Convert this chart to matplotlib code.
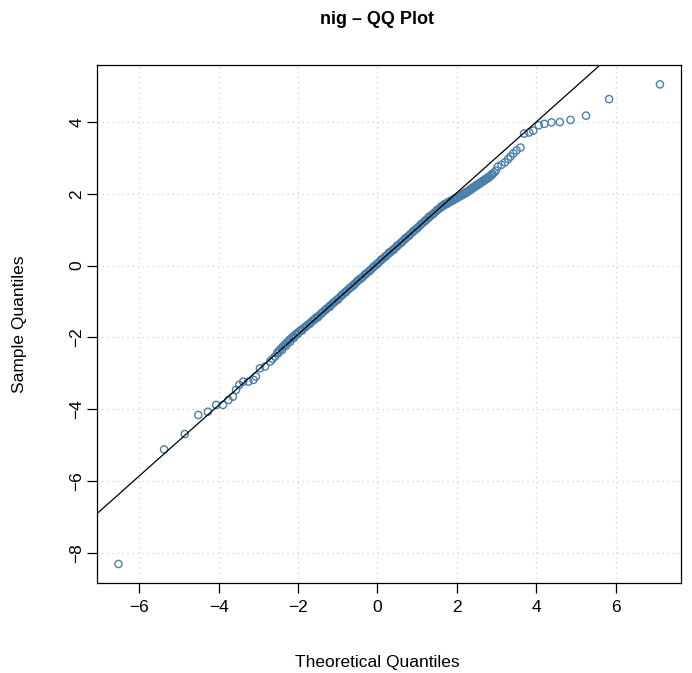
import matplotlib.pyplot as plt
import numpy as np

plt.rcParams['font.family'] = ['Liberation Sans', 'DejaVu Sans']

# lower tail (theoretical, sample)
tail_lo_x = [-6.52, -5.37, -4.85, -4.51, -4.27, -4.06, -3.89, -3.75, -3.64, -3.56,
             -3.48, -3.38, -3.25, -3.12, -3.06, -2.96, -2.83, -2.70, -2.64, -2.58]
tail_lo_y = [-8.31, -5.12, -4.69, -4.16, -4.07, -3.88, -3.88, -3.74, -3.65, -3.46,
             -3.32, -3.23, -3.23, -3.18, -3.09, -2.86, -2.81, -2.67, -2.60, -2.53]

# dense body
body_x = [-2.52, -2.47, -2.42, -2.37, -2.32, -2.27, -2.22, -2.17, -2.12, -2.07,
          -2.02, -1.97, -1.92, -1.87, -1.82, -1.77, -1.72, -1.67, -1.62, -1.57,
          -1.52, -1.47, -1.42, -1.37, -1.32, -1.27, -1.22, -1.17, -1.12, -1.07,
          -1.02, -0.97, -0.92, -0.87, -0.82, -0.77, -0.72, -0.67, -0.62, -0.57,
          -0.52, -0.47, -0.42, -0.37, -0.32, -0.27, -0.22, -0.17, -0.12, -0.07,
          -0.02, 0.03, 0.08, 0.13, 0.18, 0.23, 0.28, 0.33, 0.38, 0.43,
          0.48, 0.53, 0.58, 0.63, 0.68, 0.73, 0.78, 0.83, 0.88, 0.93,
          0.98, 1.03, 1.08, 1.13, 1.18, 1.23, 1.28, 1.33, 1.38, 1.43,
          1.48, 1.53]
body_y = [-2.42, -2.36, -2.30, -2.24, -2.19, -2.13, -2.07, -2.02, -1.97, -1.92,
          -1.88, -1.83, -1.79, -1.75, -1.71, -1.66, -1.62, -1.57, -1.52, -1.47,
          -1.43, -1.39, -1.34, -1.29, -1.24, -1.19, -1.14, -1.09, -1.05, -1.00,
          -0.95, -0.90, -0.85, -0.80, -0.75, -0.70, -0.65, -0.60, -0.55, -0.50,
          -0.45, -0.40, -0.35, -0.31, -0.26, -0.21, -0.16, -0.11, -0.06, -0.01,
          0.04, 0.09, 0.14, 0.19, 0.24, 0.29, 0.34, 0.38, 0.43, 0.48,
          0.53, 0.58, 0.63, 0.68, 0.73, 0.78, 0.83, 0.88, 0.93, 0.98,
          1.03, 1.08, 1.13, 1.18, 1.23, 1.28, 1.33, 1.38, 1.42, 1.47,
          1.52, 1.57]

# in-between body points (slight spread either side of the line)
body2_x = [-2.50, -2.40, -2.30, -2.20, -2.10, -2.00, -1.90, -1.80, -1.70, -1.60,
           -1.50, -1.40, -1.30, -1.20, -1.10, -1.00, -0.90, -0.80, -0.70, -0.60,
           -0.50, -0.40, -0.30, -0.20, -0.10, 0.00, 0.10, 0.20, 0.30, 0.40,
           0.50, 0.60, 0.70, 0.80, 0.90, 1.00, 1.10, 1.20, 1.30, 1.40,
           1.50]
body2_y = [-2.44, -2.35, -2.23, -2.12, -2.01, -1.90, -1.81, -1.70, -1.62, -1.52,
           -1.44, -1.32, -1.22, -1.15, -1.02, -0.95, -0.82, -0.74, -0.63, -0.55,
           -0.42, -0.35, -0.23, -0.15, -0.03, 0.05, 0.17, 0.25, 0.37, 0.44,
           0.56, 0.64, 0.76, 0.84, 0.96, 1.04, 1.16, 1.25, 1.36, 1.44,
           1.55]

# upper shoulder, bending below the line
shoulder_x = [1.58, 1.62, 1.66, 1.70, 1.74, 1.78, 1.82, 1.86, 1.90, 1.94,
              1.98, 2.02, 2.06, 2.10, 2.14, 2.18, 2.22, 2.26, 2.30, 2.34,
              2.38, 2.42, 2.46, 2.50, 2.54, 2.58, 2.62, 2.66, 2.70, 2.74,
              2.78, 2.82, 2.86, 2.90, 2.94, 2.98]
shoulder_y = [1.61, 1.64, 1.67, 1.70, 1.72, 1.75, 1.77, 1.80, 1.82, 1.85,
              1.87, 1.90, 1.92, 1.95, 1.97, 2.00, 2.02, 2.05, 2.08, 2.11,
              2.14, 2.17, 2.20, 2.23, 2.26, 2.29, 2.32, 2.35, 2.38, 2.41,
              2.44, 2.47, 2.51, 2.55, 2.60, 2.65]
shoulder2_x = [1.60, 1.68, 1.76, 1.84, 1.92, 2.00, 2.08, 2.16, 2.24, 2.32,
               2.40, 2.48, 2.56, 2.64, 2.72, 2.80, 2.88]
shoulder2_y = [1.65, 1.71, 1.76, 1.81, 1.86, 1.91, 1.96, 2.01, 2.06, 2.12,
               2.18, 2.24, 2.30, 2.36, 2.42, 2.48, 2.55]

# upper tail
tail_hi_x = [3.03, 3.12, 3.21, 3.29, 3.35, 3.42, 3.50, 3.60, 3.69, 3.82,
             3.92, 4.06, 4.20, 4.38, 4.59, 4.86, 5.25, 5.83, 7.11]
tail_hi_y = [2.76, 2.81, 2.88, 2.97, 3.04, 3.13, 3.21, 3.29, 3.68, 3.71,
             3.76, 3.91, 3.95, 3.99, 4.00, 4.06, 4.18, 4.64, 5.05]

# qqline
line_intercept = 0.06
line_slope = 0.987

x = np.concatenate([tail_lo_x, body_x, body2_x, shoulder_x, shoulder2_x, tail_hi_x])
y = np.concatenate([tail_lo_y, body_y, body2_y, shoulder_y, shoulder2_y, tail_hi_y])

fig = plt.figure(figsize=(6.92, 6.73), dpi=100)
ax = fig.add_axes([97 / 692, 1 - 583 / 673, 584 / 692, 518 / 673])

ax.set_xlim(-7.06, 7.64)
ax.set_ylim(-8.84, 5.59)

xt = [-6, -4, -2, 0, 2, 4, 6]
yt = [-8, -6, -4, -2, 0, 2, 4]
for v in xt:
    ax.axvline(v, color='#d3d3d3', lw=0.9, ls=(0, (1, 3)), zorder=0)
for v in yt:
    ax.axhline(v, color='#d3d3d3', lw=0.9, ls=(0, (1, 3)), zorder=0)

ax.scatter(x, y, s=27, facecolors='none', edgecolors='#4a7fab', linewidths=1.0, zorder=2)
ax.axline((0, line_intercept), slope=line_slope, color='black', lw=0.9, zorder=3)

ax.set_xticks(xt)
ax.set_yticks(yt)
ax.set_xticklabels(['\u22126', '\u22124', '\u22122', '0', '2', '4', '6'])
ax.set_yticklabels(['\u22128', '\u22126', '\u22124', '\u22122', '0', '2', '4'],
                   rotation=90, va='center')
ax.tick_params(direction='out', length=7, width=0.9, labelsize=12.5, pad=5)
ax.tick_params(axis='y', pad=2)
for s in ax.spines.values():
    s.set_linewidth(0.9)

fig.text(377 / 692, 1 - 20 / 673, 'nig \u2013 QQ Plot', ha='center', va='center',
         fontsize=13, fontweight='bold')
fig.text(377 / 692, 1 - 662 / 673, 'Theoretical Quantiles', ha='center', va='center',
         fontsize=12.5)
fig.text(20 / 692, 1 - 324 / 673, 'Sample Quantiles', ha='center', va='center',
         fontsize=12.5, rotation=90)

fig.savefig('out.png', dpi=100)
